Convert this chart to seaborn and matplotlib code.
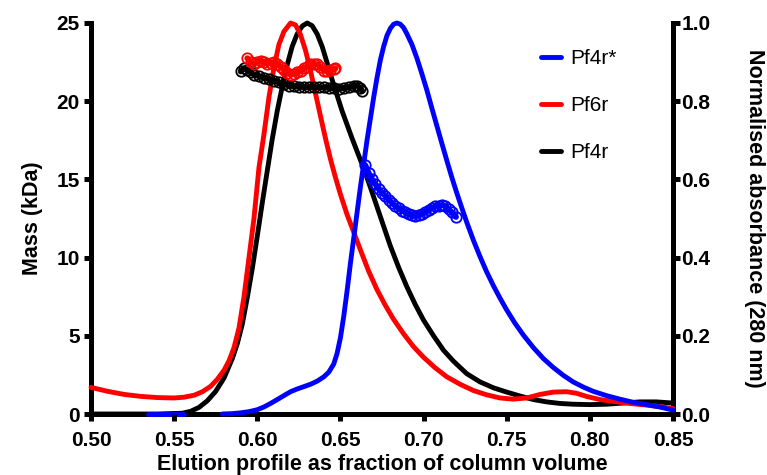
import matplotlib
matplotlib.use("Agg")
import matplotlib.pyplot as plt
import seaborn as sns

# axis ticks
x_ticks = [0.50, 0.55, 0.60, 0.65, 0.70, 0.75, 0.80, 0.85]
x_tick_labels = ["0.50", "0.55", "0.60", "0.65", "0.70", "0.75", "0.80", "0.85"]
mass_ticks = [0, 5, 10, 15, 20, 25]
abs_ticks = [0.0, 0.2, 0.4, 0.6, 0.8, 1.0]
abs_tick_labels = ["0.0", "0.2", "0.4", "0.6", "0.8", "1.0"]

# normalised absorbance (280 nm) vs fraction of column volume
pf4r_x = [0.500, 0.520, 0.540, 0.555, 0.560, 0.565, 0.570, 0.575, 0.580, 0.585,
          0.588, 0.591, 0.594, 0.597, 0.600, 0.603, 0.606, 0.609, 0.612, 0.615,
          0.618, 0.621, 0.624, 0.627, 0.630, 0.633, 0.636, 0.639, 0.642, 0.645,
          0.648, 0.651, 0.654, 0.657, 0.660, 0.664, 0.668, 0.672, 0.676, 0.680,
          0.685, 0.690, 0.695, 0.700, 0.706, 0.712, 0.718, 0.726, 0.734, 0.742,
          0.750, 0.758, 0.766, 0.774, 0.782, 0.790, 0.800, 0.810, 0.820, 0.830,
          0.840, 0.850]
pf4r_abs = [0.000, 0.000, 0.000, 0.002, 0.007, 0.017, 0.034, 0.058, 0.092, 0.142,
            0.180, 0.230, 0.298, 0.372, 0.455, 0.540, 0.622, 0.703, 0.775, 0.837,
            0.893, 0.940, 0.972, 0.992, 1.000, 0.993, 0.972, 0.940, 0.898, 0.855,
            0.815, 0.775, 0.740, 0.705, 0.672, 0.628, 0.580, 0.530, 0.480, 0.430,
            0.375, 0.325, 0.280, 0.240, 0.200, 0.163, 0.135, 0.103, 0.082, 0.067,
            0.056, 0.046, 0.037, 0.031, 0.027, 0.025, 0.024, 0.025, 0.028, 0.031,
            0.031, 0.028]

pf6r_x = [0.500, 0.510, 0.520, 0.530, 0.540, 0.550, 0.556, 0.562, 0.567, 0.572,
          0.576, 0.580, 0.583, 0.586, 0.589, 0.592, 0.595, 0.598, 0.601, 0.604,
          0.607, 0.610, 0.613, 0.616, 0.620, 0.623, 0.626, 0.629, 0.632, 0.635,
          0.638, 0.641, 0.644, 0.647, 0.650, 0.654, 0.658, 0.662, 0.667, 0.672,
          0.677, 0.682, 0.688, 0.694, 0.700, 0.707, 0.714, 0.722, 0.730, 0.738,
          0.746, 0.754, 0.762, 0.770, 0.778, 0.786, 0.792, 0.798, 0.806, 0.816,
          0.826, 0.836, 0.850]
pf6r_abs = [0.068, 0.058, 0.050, 0.045, 0.042, 0.041, 0.043, 0.048, 0.057, 0.071,
            0.089, 0.112, 0.136, 0.170, 0.220, 0.300, 0.400, 0.500, 0.630, 0.715,
            0.810, 0.885, 0.945, 0.978, 1.000, 0.995, 0.970, 0.930, 0.878, 0.820,
            0.762, 0.705, 0.652, 0.605, 0.562, 0.510, 0.465, 0.420, 0.365, 0.318,
            0.278, 0.242, 0.205, 0.172, 0.145, 0.118, 0.095, 0.076, 0.060, 0.049,
            0.041, 0.038, 0.041, 0.050, 0.056, 0.057, 0.053, 0.045, 0.037, 0.031,
            0.026, 0.022, 0.014]

pf4rs_base_x = [0.534, 0.556]
pf4rs_base_abs = [0.0, 0.0]
pf4rs_x = [0.579, 0.585, 0.590, 0.595, 0.600, 0.604, 0.608, 0.612, 0.616, 0.620,
           0.624, 0.628, 0.632, 0.636, 0.640, 0.643, 0.646, 0.648, 0.650, 0.652,
           0.654, 0.656, 0.658, 0.660, 0.662, 0.664, 0.666, 0.668, 0.670, 0.672,
           0.674, 0.676, 0.678, 0.680, 0.682, 0.684, 0.686, 0.688, 0.690, 0.693,
           0.696, 0.699, 0.702, 0.705, 0.708, 0.711, 0.714, 0.717, 0.720, 0.723,
           0.726, 0.730, 0.734, 0.738, 0.742, 0.746, 0.750, 0.755, 0.760, 0.766,
           0.772, 0.778, 0.784, 0.790, 0.796, 0.802, 0.810, 0.818, 0.826, 0.834,
           0.842, 0.850]
pf4rs_abs = [0.000, 0.001, 0.003, 0.006, 0.011, 0.018, 0.027, 0.037, 0.047, 0.057,
             0.064, 0.070, 0.076, 0.084, 0.095, 0.107, 0.128, 0.155, 0.195, 0.250,
             0.315, 0.385, 0.450, 0.515, 0.580, 0.640, 0.700, 0.755, 0.810, 0.860,
             0.905, 0.940, 0.968, 0.986, 0.997, 1.000, 0.997, 0.988, 0.972, 0.945,
             0.910, 0.870, 0.828, 0.782, 0.737, 0.692, 0.648, 0.605, 0.565, 0.527,
             0.490, 0.444, 0.402, 0.363, 0.328, 0.296, 0.266, 0.232, 0.202, 0.170,
             0.142, 0.119, 0.099, 0.082, 0.069, 0.058, 0.047, 0.038, 0.030, 0.024,
             0.018, 0.010]

# MALS mass (kDa) across each peak
pf4r_mass_x = [0.590, 0.592, 0.594, 0.596, 0.598, 0.601, 0.604, 0.607, 0.610, 0.613,
               0.616, 0.619, 0.622, 0.625, 0.628, 0.631, 0.634, 0.637, 0.640, 0.643,
               0.646, 0.649, 0.652, 0.655, 0.658, 0.660, 0.662, 0.663]
pf4r_mass = [21.9, 22.1, 22.0, 21.85, 21.7, 21.6, 21.5, 21.4, 21.3, 21.2,
             21.1, 21.0, 20.95, 20.92, 20.9, 20.9, 20.9, 20.9, 20.88, 20.85,
             20.82, 20.8, 20.82, 20.88, 20.98, 21.0, 20.85, 20.65]

pf6r_mass_x = [0.594, 0.596, 0.598, 0.600, 0.602, 0.604, 0.606, 0.608, 0.610, 0.612,
               0.614, 0.616, 0.618, 0.620, 0.622, 0.624, 0.626, 0.628, 0.630, 0.632,
               0.634, 0.636, 0.638, 0.640, 0.642, 0.644, 0.646, 0.647]
pf6r_mass = [22.75, 22.5, 22.4, 22.5, 22.6, 22.5, 22.4, 22.45, 22.5, 22.4,
             22.2, 22.0, 21.8, 21.7, 21.75, 21.85, 21.95, 22.1, 22.2, 22.35,
             22.4, 22.35, 22.2, 21.95, 21.9, 22.0, 22.05, 22.1]

pf4rs_mass_x = [0.665, 0.667, 0.669, 0.671, 0.673, 0.675, 0.677, 0.679, 0.681, 0.683,
                0.685, 0.687, 0.689, 0.691, 0.693, 0.695, 0.697, 0.699, 0.701, 0.703,
                0.705, 0.707, 0.709, 0.711, 0.713, 0.715, 0.717, 0.7195]
pf4rs_mass = [15.9, 15.4, 15.0, 14.7, 14.4, 14.15, 13.95, 13.7, 13.5, 13.3,
              13.15, 13.0, 12.9, 12.8, 12.7, 12.68, 12.72, 12.8, 12.9, 13.05,
              13.18, 13.28, 13.33, 13.35, 13.3, 13.1, 12.9, 12.6]

sns.set_style("ticks")
plt.rcParams['font.family'] = ['Liberation Sans', 'DejaVu Sans']
plt.rcParams.update({'font.weight': 'bold', 'axes.labelweight': 'bold',
                     'text.color': 'black', 'axes.labelcolor': 'black',
                     'xtick.color': 'black', 'ytick.color': 'black',
                     'axes.edgecolor': 'black'})

fig = plt.figure(figsize=(7.67, 4.75), dpi=100)
ax = fig.add_axes([91 / 767, 61 / 475, 582 / 767, 391 / 475])
ax2 = ax.twinx()

lw = 3.5
# absorbance traces on the right axis
sns.lineplot(x=pf4r_x, y=pf4r_abs, ax=ax2, color='black', lw=lw, sort=False, clip_on=False, zorder=3)
sns.lineplot(x=pf6r_x, y=pf6r_abs, ax=ax2, color='red', lw=lw, sort=False, clip_on=False, zorder=3)
sns.lineplot(x=pf4rs_base_x, y=pf4rs_base_abs, ax=ax2, color='blue', lw=lw, sort=False, clip_on=False, zorder=3)
sns.lineplot(x=pf4rs_x, y=pf4rs_abs, ax=ax2, color='blue', lw=lw, sort=False, clip_on=False, zorder=3)
abs_lines = ax2.get_lines()

# mass traces on the left axis, drawn as runs of open circles
mk = dict(lw=4.2, marker='o', markersize=7.5, markerfacecolor='none', markeredgewidth=1.3, sort=False)
sns.lineplot(x=pf4r_mass_x, y=pf4r_mass, ax=ax, color='black', markeredgecolor='black', **mk)
sns.lineplot(x=pf6r_mass_x, y=pf6r_mass, ax=ax, color='red', markeredgecolor='red', **mk)
sns.lineplot(x=pf4rs_mass_x, y=pf4rs_mass, ax=ax, color='blue', markeredgecolor='blue', **mk)

ax.set_zorder(ax2.get_zorder() + 1)
ax.patch.set_visible(False)

ax.set_xlim(0.50, 0.85)
ax.set_ylim(0, 25)
ax2.set_ylim(0, 1.0)
ax.set_xticks(x_ticks)
ax.set_xticklabels(x_tick_labels)
ax.set_yticks(mass_ticks)
ax2.set_yticks(abs_ticks)
ax2.set_yticklabels(abs_tick_labels)

sw = 3.6
for s in ['top', 'right', 'left', 'bottom']:
    ax.spines[s].set_visible(False)
ax2.spines['top'].set_visible(False)
for s in ['left', 'bottom', 'right']:
    ax2.spines[s].set_linewidth(sw)

ax.tick_params(axis='x', width=sw, length=5, labelsize=15, pad=7)
ax.tick_params(axis='y', width=sw, length=5, labelsize=15, pad=3)
ax2.tick_params(axis='y', width=sw, length=5, labelsize=15, pad=1)

ax.set_xlabel('Elution profile as fraction of column volume', fontsize=15.5, labelpad=3)
ax.set_ylabel('Mass (kDa)', fontsize=15.5, labelpad=10)
ax2.set_ylabel('Normalised absorbance (280 nm)', fontsize=15.5, rotation=270, va='bottom', labelpad=24)

handles = [abs_lines[3], abs_lines[1], abs_lines[0]]
ax2.legend(handles, ['Pf4r*', 'Pf6r', 'Pf4r'], loc='upper left',
           bbox_to_anchor=(541 / 767, 1 - 49 / 475), bbox_transform=fig.transFigure,
           frameon=False, borderpad=0, borderaxespad=0, handlelength=0.95,
           handletextpad=0.45, labelspacing=1.35, prop={'size': 15, 'weight': 'normal'})

fig.savefig('out.png', dpi=100)
